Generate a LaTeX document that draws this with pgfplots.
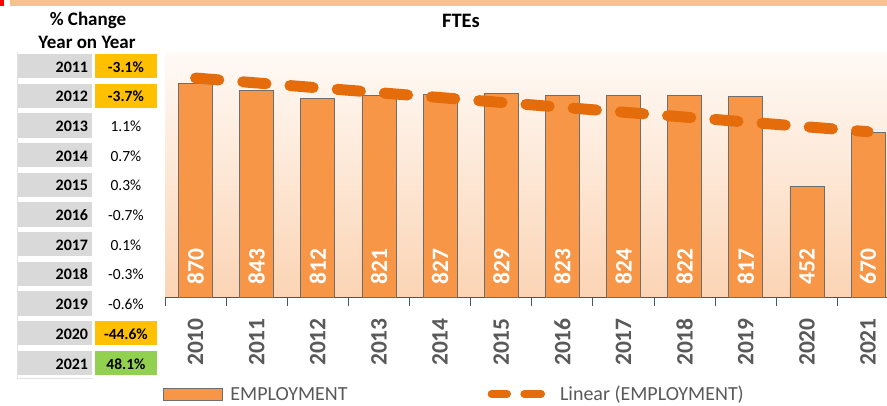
\documentclass[border=0pt]{standalone}
\usepackage{pgfplots}
\pgfplotsset{compat=1.18}
\usepackage{pgfplotstable}
\usepackage{fontspec}
\setmainfont{Carlito}
\definecolor{barorange}{HTML}{F79646}
\definecolor{bargray}{HTML}{6E6E6E}
\definecolor{trendorange}{HTML}{E46C0A}
\definecolor{bgtop}{HTML}{FFFAF6}
\definecolor{bgbot}{HTML}{FBD4B4}
\definecolor{labelgray}{HTML}{595959}
\definecolor{axisline}{HTML}{4A5568}
\definecolor{stripc}{HTML}{FAC090}
\definecolor{yeargray}{HTML}{D9D9D9}
\definecolor{cellorange}{HTML}{FFC000}
\definecolor{cellgreen}{HTML}{92D050}
\definecolor{tablegray}{HTML}{E2E2E2}
\newcommand{\fs}[1]{\fontsize{#1}{#1}\selectfont}
\pgfplotstableread{
x y
0 870
1 843
2 812
3 821
4 827
5 829
6 823
7 824
8 822
9 817
10 452
11 670
}\data
\newcommand\tabrow[5]{%
  \pgfmathsetmacro\ttop{351-29.67*#1}%
  \pgfmathsetmacro\tbot{\ttop-24.3}%
  \pgfmathsetmacro\tbase{332.7-29.67*#1}%
  \fill[yeargray] (17.3pt,\tbot pt) rectangle (91.7pt,\ttop pt);
  \fill[#4] (95pt,\tbot pt) rectangle (156.7pt,\ttop pt);
  \node[anchor=base east, inner sep=0pt, font=\bfseries\fs{16}] at (88.3pt,\tbase pt) {#2};
  \node[anchor=base, inner sep=0pt, font=#5\fs{15.5}] at (125.9pt,\tbase pt) {#3};
}
\begin{document}
\begin{tikzpicture}
\fill[stripc] (10pt,399.3pt) rectangle (887pt,405pt);
\fill[red] (0pt,399.3pt) rectangle (4pt,405pt);
\node[font=\bfseries\fs{19}, anchor=base, inner sep=0pt] at (88pt,379.5pt) {\% Change};
\node[font=\bfseries\fs{19}, anchor=base, inner sep=0pt] at (87pt,356.5pt) {Year on Year};
\tabrow{0}{2011}{-3.1\%}{cellorange}{\bfseries}
\tabrow{1}{2012}{-3.7\%}{cellorange}{\bfseries}
\tabrow{2}{2013}{1.1\%}{white}{}
\tabrow{3}{2014}{0.7\%}{white}{}
\tabrow{4}{2015}{0.3\%}{white}{}
\tabrow{5}{2016}{-0.7\%}{white}{}
\tabrow{6}{2017}{0.1\%}{white}{}
\tabrow{7}{2018}{-0.3\%}{white}{}
\tabrow{8}{2019}{-0.6\%}{white}{}
\tabrow{9}{2020}{-44.6\%}{cellorange}{\bfseries}
\tabrow{10}{2021}{48.1\%}{cellgreen}{\bfseries}
\draw[tablegray, line width=0.6pt] (17pt,353pt) -- (17pt,27pt) -- (93pt,27pt);
\begin{axis}[
  at={(165pt,108pt)}, anchor=south west,
  scale only axis, width=722pt, height=245pt,
  xmin=-0.5, xmax=11.31, ymin=0, ymax=1000,
  axis y line=none, axis x line*=bottom,
  x axis line style={draw=axisline, line width=0.9pt, -},
  xtick={0,1,2,3,4,5,6,7,8,9,10,11},
  xticklabels={2010,2011,2012,2013,2014,2015,2016,2017,2018,2019,2020,2021},
  major tick length=0pt,
  minor xtick={-0.5,0.5,1.5,2.5,3.5,4.5,5.5,6.5,7.5,8.5,9.5,10.5},
  minor x tick style={draw=axisline, line width=0.9pt},
  minor tick length=9pt, tick align=outside,
  xticklabel style={rotate=90, anchor=east, inner sep=0pt, font=\bfseries\fs{23.5}, text=labelgray},
  xticklabel shift=21pt,
  axis background/.style={top color=bgtop, bottom color=bgbot},
  /pgf/number format/assume math mode=true,
  title={FTEs},
  title style={at={(axis description cs:0.41,1.076)}, anchor=base, font=\bfseries\fs{20.5}, inner sep=0pt},
  legend columns=2,
  legend style={at={(axis description cs:-0.0032,-0.396)}, anchor=west, draw=none, fill=none,
    inner sep=0pt, outer sep=0pt, font=\fs{20}, text=labelgray,
    nodes={inner sep=0pt, text height=13pt, text depth=0pt},
    column sep=0pt,
    /tikz/column 1/.style={column sep=8pt},
    /tikz/column 2/.style={column sep=140pt},
    /tikz/column 3/.style={column sep=15pt}},
]
\addplot[ybar, bar width=34pt, bar shift=0pt, fill=barorange, draw=bargray, line width=0.8pt,
  nodes near coords,
  visualization depends on=rawy \as \rawy,
  every node near coord/.append style={shift={(axis direction cs:0,-\rawy)}, yshift=12pt, rotate=90, anchor=west, inner sep=0pt, font=\bfseries\fs{23.5}, text=white},
  legend image code/.code={\draw[fill=barorange, draw=bargray, line width=0.8pt] (0pt,-6pt) rectangle (59pt,6pt);}
] table[x=x, y=y] {\data};
\addlegendentry{EMPLOYMENT}
\addplot[trendorange, line width=11pt, line cap=round, dash pattern=on 23.3pt off 24.05pt, mark=none,
  legend image code/.code={\draw[trendorange, line width=8pt, line cap=round] (4pt,0pt) -- (19.4pt,0pt) (36.7pt,0pt) -- (53.4pt,0pt);}
] table[x=x, y={create col/linear regression={y=y}}] {\data};
\addlegendentry{Linear (EMPLOYMENT)}
\end{axis}
\pgfresetboundingbox
\useasboundingbox (0pt,0pt) rectangle (887pt,405pt);
\end{tikzpicture}
\end{document}
